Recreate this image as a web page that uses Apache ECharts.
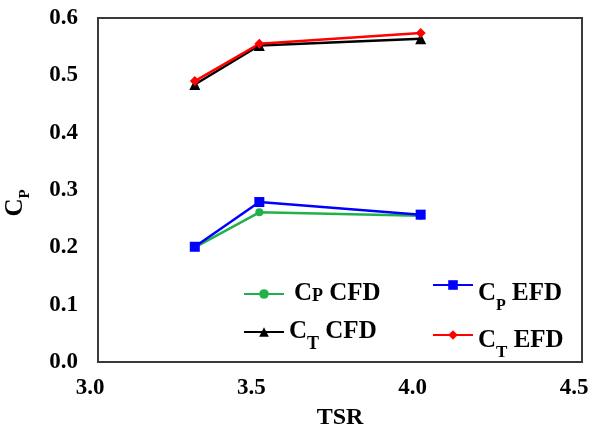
<!DOCTYPE html>
<html>
<head>
<meta charset="utf-8">
<script src="https://cdn.jsdelivr.net/npm/echarts@6/dist/echarts.min.js"></script>
<style>html,body{margin:0;padding:0;background:#fff}#c{width:599px;height:427px}</style>
</head>
<body>
<div id="c"></div>
<script>
var tsr = [3.3, 3.5, 4.0];
var cpCFD = [0.200, 0.261, 0.255];
var cpEFD = [0.201, 0.279, 0.257];
var ctCFD = [0.484, 0.552, 0.564];
var ctEFD = [0.490, 0.555, 0.574];
var seriesNames = ['CP CFD', 'CP EFD', 'CT CFD', 'CT EFD'];
var xTicks = [3.0, 3.5, 4.0, 4.5];
var yTicks = [0.0, 0.1, 0.2, 0.3, 0.4, 0.5, 0.6];

function pts(ys) { return tsr.map(function (x, i) { return [x, ys[i]]; }); }
var FF = '"Liberation Serif", "Times New Roman", serif';
var chart = echarts.init(document.getElementById('c'));

function mk(name, color, symbol, size, ys) {
  return {
    name: name, type: 'line', data: pts(ys), symbol: symbol, symbolSize: size,
    lineStyle: { color: color, width: 2.5 }, itemStyle: { color: color },
    emphasis: { disabled: true }
  };
}
function leg(name, left, top, formatter, rich) {
  return {
    data: [name], left: left, top: top, padding: 0, itemWidth: 40, itemHeight: 12,
    formatter: function () { return formatter; },
    textStyle: { fontFamily: FF, fontWeight: 'bold', color: '#000', rich: rich },
    selectedMode: false
  };
}
var base = { fontFamily: FF, fontWeight: 'bold', fontSize: 25, color: '#000' };
function tok(extra) { return Object.assign({}, base, extra); }

chart.setOption({
  animation: false,
  grid: { left: 98, right: 17, top: 18, bottom: 65, containLabel: false, outerBoundsMode: 'none',
    show: true, borderColor: '#3a3a3a', borderWidth: 2 },
  xAxis: {
    type: 'value', min: xTicks[0], max: xTicks[xTicks.length - 1], interval: 0.5,
    name: 'TSR', nameLocation: 'middle', nameGap: 44,
    nameTextStyle: { fontFamily: FF, fontWeight: 'bold', fontSize: 24, color: '#000' },
    axisLine: { show: false }, axisTick: { show: false }, splitLine: { show: false },
    axisLabel: { fontFamily: FF, fontWeight: 'bold', fontSize: 23, color: '#000', margin: 15,
      padding: [0, 16, 0, 0],
      formatter: function (v) { return v.toFixed(1); } }
  },
  yAxis: {
    type: 'value', min: yTicks[0], max: yTicks[yTicks.length - 1], interval: 0.1,
    name: '{m|C}{s|P}', nameLocation: 'middle', nameGap: 70, nameRotate: 90,
    nameTextStyle: { padding: [0, 26, 0, 0], rich: {
      m: { fontFamily: FF, fontWeight: 'bold', fontSize: 25, color: '#000', lineHeight: 25, verticalAlign: 'top' },
      s: { fontFamily: FF, fontWeight: 'bold', fontSize: 15, color: '#000', lineHeight: 15, verticalAlign: 'top', padding: [15, 0, 0, 0] }
    } },
    axisLine: { show: false }, axisTick: { show: false }, splitLine: { show: false },
    axisLabel: { fontFamily: FF, fontWeight: 'bold', fontSize: 23, color: '#000', margin: 20,
      formatter: function (v) { return v.toFixed(1); } }
  },
  legend: [
    leg('CP CFD', 243, 281, '{p|}{m|C}{k|P}{m| CFD}', {
      p: tok({ width: 5 }),
      m: tok({ lineHeight: 26, verticalAlign: 'top' }),
      k: tok({ fontSize: 18, lineHeight: 18, verticalAlign: 'top', padding: [6, 0, 0, 0] })
    }),
    leg('CP EFD', 432, 272, '{m|C}{s|P}{m| EFD}', {
      m: tok({ lineHeight: 26, verticalAlign: 'top', padding: [9, 0, 0, 0] }),
      s: tok({ fontSize: 16, lineHeight: 16, verticalAlign: 'top', padding: [26, 0, 0, 0] })
    }),
    leg('CT CFD', 243, 319, '{m|C}{s|T}{m| CFD}', {
      m: tok({ lineHeight: 26, verticalAlign: 'top' }),
      s: tok({ fontSize: 18, lineHeight: 18, verticalAlign: 'top', padding: [16, 0, 9, 0] })
    }),
    leg('CT EFD', 432, 322, '{m|C}{s|T}{m| EFD}', {
      m: tok({ lineHeight: 26, verticalAlign: 'top', padding: [6, 0, 0, 0] }),
      s: tok({ fontSize: 17, lineHeight: 17, verticalAlign: 'top', padding: [22, 0, 0, 0] })
    })
  ],
  series: [
    mk(seriesNames[0], '#21b14b', 'circle', 8, cpCFD),
    mk(seriesNames[1], '#0000ff', 'rect', 10, cpEFD),
    mk(seriesNames[2], '#000000', 'triangle', 11, ctCFD),
    mk(seriesNames[3], '#ff0000', 'diamond', 10, ctEFD)
  ]
});
</script>
</body>
</html>
